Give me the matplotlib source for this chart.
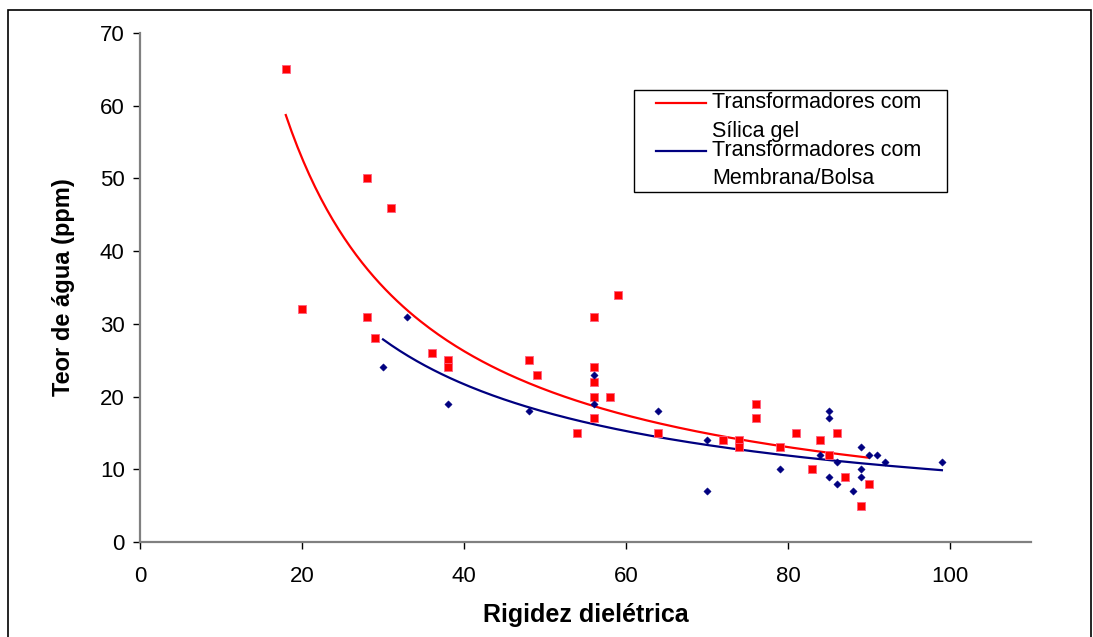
import numpy as np
import matplotlib
matplotlib.use("Agg")
import matplotlib.pyplot as plt
from matplotlib.patches import Rectangle
from matplotlib.lines import Line2D

plt.rcParams['font.family'] = ['Liberation Sans', 'DejaVu Sans']

# Transformadores com Sílica gel
silica_x = [18, 20, 28, 31, 28, 29, 36, 38, 38, 48, 49, 54, 56, 56, 56, 56, 56, 58, 59, 64,
            72, 74, 74, 76, 76, 79, 81, 83, 84, 85, 86, 87, 89, 90]
silica_y = [65, 32, 50, 46, 31, 28, 26, 25, 24, 25, 23, 15, 31, 24, 22, 20, 17, 20, 34, 15,
            14, 14, 13, 19, 17, 13, 15, 10, 14, 12, 15, 9, 5, 8]

# Transformadores com Membrana/Bolsa
membr_x = [33, 30, 38, 48, 56, 56, 64, 70, 70, 79, 85, 85, 84, 85, 86, 86, 88, 89, 89, 89,
           90, 91, 92, 99]
membr_y = [31, 24, 19, 18, 23, 19, 18, 14, 7, 10, 18, 17, 12, 9, 11, 8, 7, 13, 10, 9,
           12, 12, 11, 11]

labels = [("Transformadores com", "Sílica gel"), ("Transformadores com", "Membrana/Bolsa")]
x_ticks = [0, 20, 40, 60, 80, 100]
y_ticks = [0, 10, 20, 30, 40, 50, 60, 70]


def power_fit(x, y):
    x = np.asarray(x, float)
    y = np.asarray(y, float)
    b, lna = np.polyfit(np.log(x), np.log(y), 1)
    xs = np.linspace(x.min(), x.max(), 200)
    return xs, np.exp(lna) * xs ** b


W, H = 1093, 637
fig = plt.figure(figsize=(W / 100, H / 100), dpi=100)
fig.patches.append(Rectangle((8 / W, -0.01), 1083 / W, 1 - 10 / H + 0.01, transform=fig.transFigure,
                             fill=False, edgecolor='black', linewidth=1.2))
ax = fig.add_axes([140 / W, 1 - 542 / H, (1031 - 140) / W, (542 - 33) / H])

red = '#FF0000'
navy = '#000080'

ax.scatter(silica_x, silica_y, marker='s', s=26, color=red, edgecolors='#ff6080',
           linewidths=0.6, zorder=3)
ax.scatter(membr_x, membr_y, marker='D', s=14, color=navy, edgecolors=navy,
           linewidths=0.3, zorder=3)

xs, ys = power_fit(silica_x, silica_y)
ax.plot(xs, ys, color=red, lw=1.6, zorder=2)
xm, ym = power_fit(membr_x, membr_y)
ax.plot(xm, ym, color=navy, lw=1.6, zorder=2)

ax.set_xlim(0, 110)
ax.set_ylim(0, 70)
ax.set_xticks(x_ticks)
ax.set_yticks(y_ticks)
ax.tick_params(axis='both', labelsize=16, length=5, width=1, color='black')
ax.tick_params(axis='x', pad=12)
ax.tick_params(axis='y', pad=6)
for s in ['top', 'right']:
    ax.spines[s].set_visible(False)
for s in ['left', 'bottom']:
    ax.spines[s].set_color('#808080')
    ax.spines[s].set_linewidth(1.6)

ax.set_xlabel('Rigidez dielétrica', fontsize=18, fontweight='bold', labelpad=12)
ax.set_ylabel('Teor de água (ppm)', fontsize=17, fontweight='bold', labelpad=18)

# legend drawn to match the reference layout (handles aligned with first text line)
def fx(px):
    return px / W


def fy(py):
    return 1 - py / H


fig.patches.append(Rectangle((fx(634), fy(192)), fx(947) - fx(634), fy(90) - fy(192),
                             transform=fig.transFigure, fill=True, facecolor='white',
                             edgecolor='black', linewidth=1.0, zorder=5))
for (l1, l2), col, y1, y2 in [(labels[0], red, 103, 131), (labels[1], navy, 151, 178)]:
    fig.add_artist(Line2D([fx(656), fx(706)], [fy(y1), fy(y1)], color=col, lw=1.6, zorder=6))
    fig.text(fx(712), fy(y1), l1, fontsize=15.5, va='center', ha='left', zorder=6)
    fig.text(fx(712), fy(y2), l2, fontsize=15.5, va='center', ha='left', zorder=6)

fig.savefig('out.png', dpi=100)
